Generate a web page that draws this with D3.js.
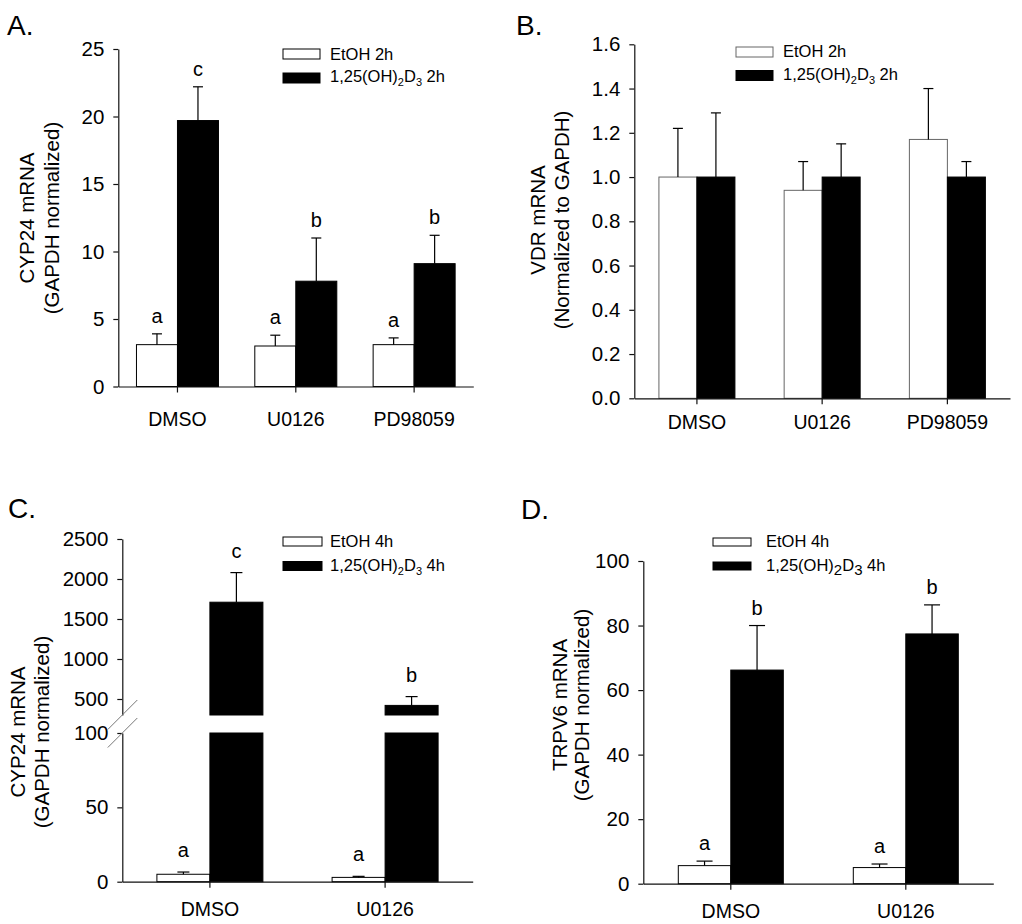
<!DOCTYPE html>
<html>
<head>
<meta charset="utf-8">
<script src="https://cdn.jsdelivr.net/npm/d3@7"></script>
<style>
  body { margin: 0; background: #fff; }
  svg { font-family: "Liberation Sans", Arial, sans-serif; }
  .axis path, .axis line { stroke: #111; stroke-width: 1.2; }
  .axis text { fill: #000; }
</style>
</head>
<body>
<div id="chart"></div>
<script>
// ---- data ----
const catsABC = ["DMSO", "U0126", "PD98059"];
const catsCD = ["DMSO", "U0126"];

// A: CYP24, 2h
const ethA = [3.1, 3.0, 3.1];
const ethErrA = [0.8, 0.8, 0.5];
const vitA = [19.7, 7.8, 9.1];
const vitErrA = [2.5, 3.2, 2.1];
const ethLetA = ["a", "a", "a"];
const vitLetA = ["c", "b", "b"];
const ticksA = [0, 5, 10, 15, 20, 25];

// B: VDR, 2h
const ethB = [1.0, 0.94, 1.17];
const ethErrB = [0.22, 0.13, 0.23];
const vitB = [1.0, 1.0, 1.0];
const vitErrB = [0.29, 0.15, 0.07];
const ticksB = [0, 0.2, 0.4, 0.6, 0.8, 1.0, 1.2, 1.4, 1.6];

// C: CYP24, 4h (broken axis)
const ethC = [5.0, 2.9];
const ethErrC = [1.5, 0.7];
const vitC = [1710, 420];
const vitErrC = [370, 110];
const ethLetC = ["a", "a"];
const vitLetC = ["c", "b"];
const ticksClow = [0, 50, 100];
const ticksChigh = [500, 1000, 1500, 2000, 2500];

// D: TRPV6, 4h
const ethD = [5.6, 5.0];
const ethErrD = [1.4, 1.1];
const vitD = [66.2, 77.4];
const vitErrD = [13.8, 9.0];
const ethLetD = ["a", "a"];
const vitLetD = ["b", "b"];
const ticksD = [0, 20, 40, 60, 80, 100];

const svg = d3.select("#chart").append("svg")
  .attr("width", 1022).attr("height", 924);

function drawPanel(p) {
  const g = svg.append("g");
  const x = d3.scaleBand().domain(p.cats).range(p.xr);
  const bw = p.barW;

  // bars
  const series = [
    { vals: p.eth, errs: p.ethErr, lets: p.ethLet, fill: "#fff", stroke: p.whiteStroke, off: -bw },
    { vals: p.vit, errs: p.vitErr, lets: p.vitLet, fill: "#000", stroke: "#000", off: 0 }
  ];
  series.forEach(s => {
    s.vals.forEach((v, i) => {
      const x0 = x(p.cats[i]) + x.bandwidth() / 2 + s.off;
      p.segs(v).forEach(sg => {
        g.append("rect")
          .attr("x", x0).attr("width", bw)
          .attr("y", Math.min(sg[0], sg[1]))
          .attr("height", Math.abs(sg[0] - sg[1]))
          .attr("fill", s.fill).attr("stroke", s.stroke).attr("stroke-width", 1);
      });
      const cx = x0 + bw / 2;
      const yTop = p.y(v), yErr = p.y(v + s.errs[i]);
      g.append("line").attr("x1", cx).attr("x2", cx).attr("y1", yTop).attr("y2", yErr)
        .attr("stroke", "#000").attr("stroke-width", 1.2);
      g.append("line").attr("x1", cx - p.cap / 2).attr("x2", cx + p.cap / 2)
        .attr("y1", yErr).attr("y2", yErr)
        .attr("stroke", "#000").attr("stroke-width", 1.2);
      if (s.lets) {
        g.append("text").attr("x", cx).attr("y", yErr - p.letOff)
          .attr("text-anchor", "middle").attr("font-size", 20).text(s.lets[i]);
      }
    });
  });

  // y axes
  p.yAxes.forEach(a => {
    g.append("g").attr("class", "axis")
      .attr("transform", `translate(${p.xr[0]},0)`)
      .call(d3.axisLeft(a.scale).tickValues(a.ticks).tickSize(5).tickSizeOuter(0)
        .tickPadding(9).tickFormat(p.fmt))
      .selectAll("text").attr("font-size", 20.5);
  });

  // x axis
  g.append("g").attr("class", "axis")
    .attr("transform", `translate(0,${p.y(0)})`)
    .call(d3.axisBottom(x).tickSize(6).tickSizeOuter(0).tickPadding(p.xPad))
    .selectAll("text").attr("font-size", 19.5);

  // axis title
  const t = g.append("g").attr("transform", `translate(0,${p.titleY})`);
  p.title.forEach((line, k) => {
    t.append("text").attr("transform", `translate(${p.titleX[k]},0) rotate(-90)`)
      .attr("text-anchor", "middle").attr("font-size", 20.5).text(line);
  });

  // panel letter
  g.append("text").attr("x", p.lab[0]).attr("y", p.lab[1])
    .attr("font-size", 28).text(p.label);

  // legend
  const L = p.leg;
  [[L.y1, "#fff", p.whiteStroke], [L.y2, "#000", "#000"]].forEach(r => {
    g.append("rect").attr("x", L.x).attr("y", r[0]).attr("width", L.w).attr("height", L.h)
      .attr("fill", r[1]).attr("stroke", r[2]).attr("stroke-width", 1);
  });
  g.append("text").attr("x", L.tx).attr("y", L.b1).attr("font-size", 16.5).text("EtOH " + p.time);
  const t2 = g.append("text").attr("x", L.tx).attr("y", L.b2).attr("font-size", 16.5);
  t2.append("tspan").text("1,25(OH)");
  t2.append("tspan").attr("font-size", L.sub).attr("dy", 4).text("2");
  t2.append("tspan").attr("dy", -4).text("D");
  t2.append("tspan").attr("font-size", L.sub).attr("dy", 4).text("3");
  t2.append("tspan").attr("dy", -4).text(" " + p.time);
}

function simple(y) {
  return {
    y: y,
    segs: v => [[y(0), y(v)]],
  };
}

// Panel A
const yA = d3.scaleLinear().domain([0, 25]).range([386.5, 49]);
drawPanel(Object.assign(simple(yA), {
  cats: catsABC, xr: [118.3, 473.3], barW: 41, cap: 10, letOff: 11,
  eth: ethA, ethErr: ethErrA, vit: vitA, vitErr: vitErrA, ethLet: ethLetA, vitLet: vitLetA,
  whiteStroke: "#000", yAxes: [{ scale: yA, ticks: ticksA }], fmt: d3.format("d"), xPad: 20,
  title: ["CYP24 mRNA", "(GAPDH normalized)"], titleX: [34, 59], titleY: 218,
  label: "A.", lab: [7, 35], time: "2h",
  leg: { x: 283, w: 37, h: 10, y1: 49, y2: 73, tx: 330, b1: 60, b2: 82, sub: 11 }
}));

// Panel B
const yB = d3.scaleLinear().domain([0, 1.6]).range([398.3, 44.3]);
drawPanel(Object.assign(simple(yB), {
  cats: catsABC, xr: [634.3, 1010], barW: 38, cap: 10, letOff: 11,
  eth: ethB, ethErr: ethErrB, vit: vitB, vitErr: vitErrB, ethLet: null, vitLet: null,
  whiteStroke: "#666", yAxes: [{ scale: yB, ticks: ticksB }], fmt: d3.format(".1f"), xPad: 11,
  title: ["VDR mRNA", "(Normalized to GAPDH)"], titleX: [545, 569], titleY: 220,
  label: "B.", lab: [516, 35], time: "2h",
  leg: { x: 736, w: 37, h: 10, y1: 47, y2: 70.5, tx: 783, b1: 57, b2: 80, sub: 11 }
}));

// Panel C: broken y axis
const yClow = d3.scaleLinear().domain([0, 100]).range([881.7, 733]);
const yChigh = d3.scaleLinear().domain([300, 2500]).range([715, 539]);
const yC = v => v <= 100 ? yClow(v) : yChigh(v);
drawPanel({
  y: yC,
  segs: v => v <= 100 ? [[yClow(0), yClow(v)]] : [[yClow(0), yClow(100)], [yChigh(300), yChigh(v)]],
  cats: catsCD, xr: [122.3, 472.7], barW: 53, cap: 12, letOff: 15,
  eth: ethC, ethErr: ethErrC, vit: vitC, vitErr: vitErrC, ethLet: ethLetC, vitLet: vitLetC,
  whiteStroke: "#000",
  yAxes: [{ scale: yClow, ticks: ticksClow }, { scale: yChigh, ticks: ticksChigh }],
  fmt: d3.format("d"), xPad: 14,
  title: ["CYP24 mRNA", "(GAPDH normalized)"], titleX: [25, 49], titleY: 732,
  label: "C.", lab: [8, 518], time: "4h",
  leg: { x: 283, w: 39, h: 9, y1: 537, y2: 561.5, tx: 330, b1: 547, b2: 571, sub: 11 }
});
// break marks on C axis
[yChigh(300), yClow(100)].forEach(yy => {
  svg.append("line").attr("x1", 122.3 - 14.5).attr("y1", yy + 14.5)
    .attr("x2", 122.3 + 15).attr("y2", yy - 15)
    .attr("stroke", "#777").attr("stroke-width", 1);
});

// Panel D
const yD = d3.scaleLinear().domain([0, 100]).range([883.7, 561]);
drawPanel(Object.assign(simple(yD), {
  cats: catsCD, xr: [643.3, 993.3], barW: 52.5, cap: 16, letOff: 11,
  eth: ethD, ethErr: ethErrD, vit: vitD, vitErr: vitErrD, ethLet: ethLetD, vitLet: vitLetD,
  whiteStroke: "#000", yAxes: [{ scale: yD, ticks: ticksD }], fmt: d3.format("d"), xPad: 14,
  title: ["TRPV6 mRNA", "(GAPDH normalized)"], titleX: [567, 589], titleY: 705,
  label: "D.", lab: [521, 519], time: "4h",
  leg: { x: 713, w: 38, h: 8, y1: 538, y2: 562, tx: 766, b1: 547, b2: 571, sub: 15 }
}));
</script>
</body>
</html>
